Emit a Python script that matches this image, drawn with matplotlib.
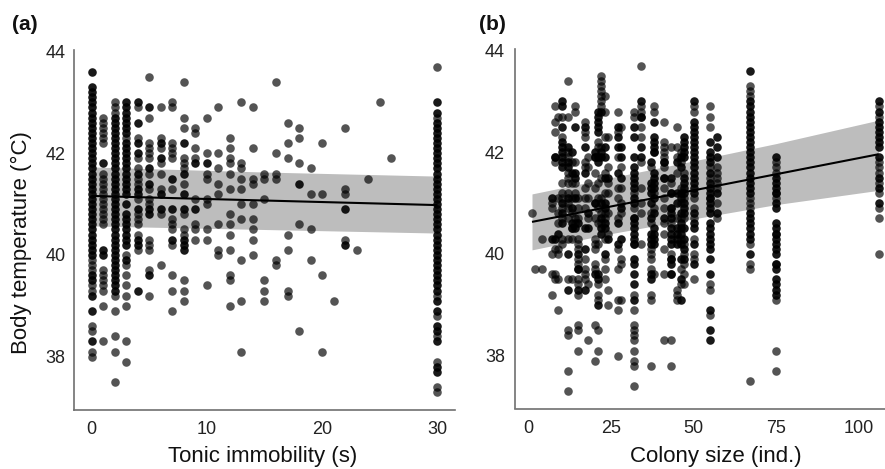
import matplotlib
matplotlib.use("Agg")
import matplotlib.pyplot as plt
import numpy as np

plt.rcParams['font.family'] = ['Liberation Sans', 'DejaVu Sans']

# ---------- Panel (a): tonic immobility (s) vs body temperature ----------
a_times = [0, 1, 2, 3, 4, 5, 6, 7, 8, 9, 10, 11, 12, 13, 14, 15, 16, 17, 18, 19, 20, 21, 22, 23, 24, 25, 26, 30]
a_grey = [
    [39.9, 39.8, 39.7, 39.4, 39.3, 38.6, 38.5, 38.1, 38.0],
    [42.7, 42.6, 42.5, 42.4, 42.3, 42.2, 41.6, 41.5, 41.4, 41.3, 41.2, 41.1, 41.0, 40.9, 40.8, 40.7, 40.6, 39.7, 39.6, 39.5, 39.4, 39.3, 39.0, 38.3],
    [43.0, 42.9, 42.8, 39.2, 38.9, 38.4, 38.1, 37.5],
    [42.3, 40.0, 39.8, 39.6, 39.4, 39.2, 39.0, 38.3, 37.9],
    [42.9, 42.3, 41.9, 41.7, 41.5, 41.4, 41.1, 40.8, 40.7, 40.6, 40.4, 40.1],
    [43.5, 42.7, 42.2, 42.1, 42.0, 41.9, 41.6, 41.3, 41.1, 41.0, 40.3, 40.2, 40.1, 39.7, 39.2],
    [42.9, 42.3, 42.1, 41.8, 41.6, 41.3, 40.8, 39.8],
    [43.0, 42.9, 42.2, 42.1, 42.0, 41.9, 41.3, 40.7, 40.6, 40.5, 40.2, 39.6, 39.3, 38.9],
    [43.4, 42.7, 42.5, 41.9, 41.8, 41.7, 41.4, 40.8, 40.5, 40.4, 39.5, 39.3, 39.1],
    [42.5, 42.4, 42.1, 41.9, 41.1, 40.6, 40.5, 40.3],
    [42.7, 42.0, 41.6, 41.5, 41.1, 41.0, 40.5, 40.3, 39.4],
    [42.9, 42.0, 41.7, 41.4, 41.2, 40.6, 40.1, 40.0],
    [42.3, 42.1, 41.9, 41.8, 41.6, 41.3, 40.8, 40.6, 40.4, 40.1, 39.6, 39.5, 39.0],
    [43.0, 41.8, 41.7, 41.5, 41.3, 41.0, 40.7, 39.9, 39.1, 38.1],
    [42.9, 42.1, 41.5, 41.4, 41.0, 40.7, 40.5, 40.3, 40.0],
    [41.6, 41.5, 41.1, 39.5, 39.3, 39.1],
    [43.4, 42.0, 41.6, 41.5, 39.9, 39.8],
    [42.6, 42.2, 41.9, 40.4, 40.1, 39.3, 39.2],
    [42.5, 42.3, 41.8, 40.6, 38.5],
    [41.7, 41.2, 40.5, 39.9],
    [42.2, 41.2, 39.6, 38.1],
    [39.1],
    [42.5, 41.3, 41.2, 40.3],
    [40.1],
    [41.5],
    [43.0],
    [41.9],
    [43.7, 42.7, 39.2, 38.8, 38.4, 37.9, 37.4, 37.3],
]
a_dark = [
    [43.6, 43.3, 43.2, 43.1, 43.0, 42.9, 42.8, 42.7, 42.6, 42.5, 42.4, 42.3, 42.2, 42.1, 42.0, 41.9, 41.8, 41.7, 41.6, 41.5, 41.4, 41.3, 41.2, 41.1, 41.0, 40.9, 40.8, 40.7, 40.6, 40.5, 40.4, 40.3, 40.2, 40.1, 40.0, 39.6, 39.5, 39.2, 38.9, 38.3],
    [41.8, 40.1, 40.0],
    [42.7, 42.6, 42.5, 42.4, 42.3, 42.2, 42.1, 42.0, 41.9, 41.8, 41.7, 41.6, 41.5, 41.4, 41.3, 41.2, 41.1, 41.0, 40.9, 40.8, 40.7, 40.6, 40.5, 40.4, 40.3, 40.2, 40.1, 40.0, 39.9, 39.8, 39.7, 39.6, 39.5, 39.4, 39.3],
    [43.0, 42.9, 42.8, 42.7, 42.6, 42.5, 42.4, 42.2, 42.1, 42.0, 41.9, 41.8, 41.7, 41.6, 41.5, 41.4, 41.3, 41.2, 41.0, 40.8, 40.7, 40.6, 40.5, 40.4, 40.3, 40.2, 39.9],
    [43.0, 42.6, 42.2, 42.0, 41.6, 41.3, 41.2, 40.9, 40.3, 40.2, 39.3],
    [42.9, 41.7, 41.4, 40.9, 40.8, 39.6],
    [42.2, 41.9, 41.2, 40.9],
    [41.5, 40.9, 40.3],
    [42.2, 41.6, 41.2, 40.9, 40.3, 40.2, 40.1],
    [41.8, 40.9],
    [41.8],
    [],
    [],
    [],
    [],
    [],
    [],
    [],
    [41.4],
    [],
    [],
    [],
    [40.9, 40.2],
    [],
    [],
    [],
    [],
    [43.0, 42.8, 42.6, 42.5, 42.4, 42.3, 42.2, 42.1, 42.0, 41.9, 41.8, 41.7, 41.6, 41.5, 41.4, 41.3, 41.2, 41.1, 41.0, 40.9, 40.8, 40.7, 40.6, 40.5, 40.4, 40.3, 40.2, 40.1, 40.0, 39.9, 39.8, 39.7, 39.6, 39.5, 39.4, 39.3, 39.1, 38.9, 38.6, 38.5, 38.3, 37.8, 37.7],
]
a_band_x = [0, 15, 30]
a_band_hi = [41.73, 41.63, 41.55]
a_band_lo = [40.57, 40.50, 40.43]
a_line_x = [0, 30]
a_line_y = [41.16, 40.98]

# ---------- Panel (b): colony size vs body temperature ----------
b_sizes = [1, 2, 4, 7, 8, 9, 10, 12, 13, 14, 15, 17, 18, 20, 21, 22, 23, 24, 27, 28, 32, 34, 37, 38, 41, 43, 45, 46, 47, 50, 55, 57, 67, 75, 106]
b_grey = [
    [40.8],
    [39.7],
    [40.3, 39.7],
    [41.0, 40.9, 40.0, 39.6, 39.2],
    [42.9, 42.6, 42.4, 41.9, 41.8, 40.1, 39.6, 39.5],
    [42.7, 41.1, 40.8, 40.6, 40.1, 40.0, 39.5, 38.9],
    [42.7, 42.3, 41.4, 41.2, 41.1, 40.9, 40.7, 40.3, 40.2],
    [43.4, 42.7, 42.0, 41.9, 41.6, 41.5, 41.4, 41.2, 41.0, 40.9, 40.7, 40.3, 39.5, 38.5, 38.4, 37.7, 37.3],
    [41.8, 41.4, 41.1, 40.8, 40.5, 40.3, 39.5],
    [42.9, 42.8, 41.8, 41.4, 41.2, 40.7, 40.6],
    [41.1, 40.9, 40.7, 40.3, 40.2, 40.1, 39.9, 39.8, 39.7, 39.5, 39.4, 39.2, 38.6, 38.5, 38.1],
    [42.6, 42.4, 42.3, 41.8, 41.7, 41.3, 41.1, 40.9, 39.9, 39.7, 39.6, 39.5],
    [41.9, 41.7, 41.4, 41.1, 40.7, 39.4, 38.3],
    [41.9, 41.6, 41.3, 41.0, 40.7, 40.3, 40.2, 40.1, 39.8, 39.7, 38.6, 37.9],
    [42.2, 42.1, 41.4, 41.1, 40.9, 40.6, 40.2, 39.4, 39.2, 39.1, 38.5, 38.1],
    [43.5, 43.4, 43.3, 43.2, 43.1, 43.0, 42.9, 42.1, 41.5, 41.1, 40.8, 40.6],
    [43.1, 42.8, 42.3, 41.6, 41.2, 40.8, 40.7, 40.3, 39.9, 39.7, 39.5],
    [42.3, 41.7, 41.4, 41.2, 40.8, 40.4, 39.3, 39.0],
    [42.8, 42.4, 41.9, 41.3, 41.1, 40.7, 40.1, 39.7, 39.1, 38.9, 38.0],
    [42.5, 41.7, 41.3, 41.0, 40.8, 39.9, 39.8, 39.1],
    [42.8, 42.7, 41.2, 40.9, 40.7, 40.2, 39.2, 38.9, 38.6, 38.5, 38.4, 38.3, 38.1, 37.9, 37.8, 37.4],
    [43.7, 42.9, 42.8, 42.7, 42.5, 42.3, 41.8, 41.3, 41.0, 40.8, 40.2],
    [41.7, 40.8, 40.6, 40.1, 40.0, 39.9, 39.7, 39.2, 39.1, 37.8],
    [42.9, 42.8, 42.0, 41.2, 40.9, 39.6],
    [42.6, 42.2, 42.1, 42.0, 41.9, 41.8, 41.7, 41.5, 41.3, 41.1, 40.9, 40.6, 40.4, 40.1, 39.6, 38.3],
    [42.1, 41.4, 41.2, 40.9, 40.6, 40.0, 39.9, 39.6, 38.3, 37.8],
    [42.5, 42.1, 41.9, 41.6, 40.7, 39.3, 39.2, 39.1],
    [42.0, 41.8, 41.3, 41.0, 40.7, 40.3, 39.7, 39.4],
    [41.6, 41.1, 40.7, 40.2, 40.0, 39.8, 39.6, 39.4],
    [42.9, 42.8, 41.1, 40.9, 40.7, 40.3, 40.0, 39.9, 39.5],
    [42.9, 42.7, 42.5, 41.7, 41.5, 41.1, 39.4, 39.3, 38.8],
    [41.7, 41.6, 41.5, 41.4, 41.3, 41.0, 40.7],
    [43.3, 43.2, 43.1, 41.1, 41.0, 40.9, 40.2, 39.8, 39.7, 37.5],
    [41.8, 41.7, 41.6, 41.2, 41.1, 40.4, 39.8, 39.1, 38.1, 37.7],
    [42.9, 42.7, 41.8, 41.7, 41.6, 41.4, 41.2, 40.9, 40.7, 40.0],
]
b_dark = [
    [],
    [],
    [],
    [41.1, 40.3],
    [41.9, 40.3],
    [40.4],
    [43.0, 42.9, 42.5, 42.2, 42.1, 42.0, 41.9, 41.8, 41.7, 41.0, 40.8, 40.6],
    [42.1, 41.8, 41.7, 41.1, 40.0, 39.3],
    [42.0, 41.6, 40.9, 40.6, 40.5],
    [42.5, 41.6, 41.5, 41.1, 40.5],
    [40.6, 40.0, 39.7, 39.3],
    [42.5, 42.1, 41.6, 40.5, 40.1, 39.3],
    [40.8, 40.5],
    [42.0, 41.9, 41.0, 39.6],
    [42.8, 42.7, 42.6, 42.5, 42.4, 41.9, 41.8, 39.6, 39.5, 39.0],
    [42.8, 42.0, 41.9, 41.0, 40.7, 40.5, 40.4],
    [42.1, 41.9, 41.5, 41.0, 40.9, 40.6, 40.5, 40.0],
    [41.5, 40.3],
    [42.5, 42.3, 42.1, 41.6, 40.6, 40.2],
    [42.1, 41.9, 41.5, 40.9, 40.3],
    [42.5, 42.3, 41.9, 41.7, 41.6, 41.5, 41.4, 41.3, 41.1, 41.0, 40.7, 40.6, 40.5, 40.4, 40.3, 40.2, 39.9, 39.8, 39.6, 39.4, 39.1],
    [43.0, 42.7, 42.1, 41.9],
    [41.8, 41.4, 41.3, 41.2, 41.0, 40.7, 40.4, 40.3, 40.2, 39.6, 39.5],
    [42.6, 42.3, 42.2, 42.1, 42.0, 41.6, 41.5, 41.4, 41.3, 41.1, 40.8, 40.5, 40.4, 40.3, 40.2],
    [41.8, 41.5, 40.7],
    [41.5, 41.2, 40.9, 40.8, 40.7, 40.5, 40.4, 40.3, 40.2, 39.9, 39.8, 39.6],
    [41.8, 41.2, 41.0, 40.5, 40.4, 40.3, 40.2],
    [41.9, 41.7, 41.2, 41.1, 40.8, 40.6, 40.5, 40.4, 40.2, 39.9, 39.5, 39.1],
    [42.3, 42.2, 42.1, 42.0, 41.9, 41.5, 41.4, 41.3, 41.2, 41.0, 40.9, 40.8, 40.5, 40.3, 40.1, 39.9],
    [43.0, 42.6, 42.5, 42.4, 42.3, 42.2, 42.1, 42.0, 41.9, 41.8, 41.7, 41.6, 41.5, 41.4, 41.3, 41.2, 40.8, 40.6, 40.5, 40.2, 39.8],
    [42.2, 42.0, 41.9, 41.8, 41.6, 41.4, 41.3, 41.2, 41.1, 41.0, 40.9, 40.8, 40.6, 40.5, 40.4, 40.3, 40.2, 40.1, 39.9, 39.6, 38.9, 38.5, 38.3],
    [42.3, 42.1, 41.9, 41.2, 40.8],
    [43.6, 43.0, 42.9, 42.8, 42.7, 42.6, 42.5, 42.4, 42.3, 42.2, 42.1, 42.0, 41.9, 41.8, 41.7, 41.6, 41.5, 41.4, 41.3, 41.2, 40.8, 40.7, 40.6, 40.5, 40.4, 40.3, 40.0],
    [41.9, 41.5, 41.4, 41.3, 41.2, 41.0, 40.9, 40.6, 40.5, 40.4, 40.3, 40.2, 40.1, 40.0, 39.8, 39.7, 39.5, 39.4, 39.3, 39.2],
    [43.0, 42.8, 42.6, 42.5, 42.4, 42.3, 42.2, 42.1, 41.9, 41.5, 41.3, 41.0],
]
b_band_x = [1, 25, 50, 75, 106]
b_band_hi = [41.18, 41.50, 41.83, 42.17, 42.63]
b_band_lo = [40.08, 40.40, 40.69, 40.97, 41.25]
b_line_x = [1, 106]
b_line_y = [40.63, 41.96]

y_ticks = [38, 40, 42, 44]
a_x_ticks = [0, 10, 20, 30]
b_x_ticks = [0, 25, 50, 75, 100]

W, H = 885, 469
fig = plt.figure(figsize=(W / 100, H / 100), dpi=100)


def axes_px(left, right, top, bottom):
    return fig.add_axes([left / W, 1 - bottom / H, (right - left) / W, (bottom - top) / H])


def draw(ax, xs, grey, dark, bx, hi, lo, lx, ly):
    ax.fill_between(bx, lo, hi, color='#bdbdbd', lw=0, zorder=1)
    for x, g, d in zip(xs, grey, dark):
        ax.scatter([x] * len(g), g, s=38, c='black', alpha=0.67, lw=0, zorder=2)
        ax.scatter([x] * len(d), d, s=38, c='black', alpha=0.9, lw=0, zorder=2)
    ax.plot(lx, ly, color='black', lw=1.5, zorder=3, solid_capstyle='butt')
    for s in ['top', 'right']:
        ax.spines[s].set_visible(False)
    for s in ['left', 'bottom']:
        ax.spines[s].set_color('#707070')
        ax.spines[s].set_linewidth(1.2)
    ax.set_ylim(36.96, 44.03)
    ax.set_yticks(y_ticks)
    ax.tick_params(length=0, labelsize=13, colors='#222222', pad=8)


ax_a = axes_px(74, 455, 50, 409.5)
draw(ax_a, a_times, a_grey, a_dark, a_band_x, a_band_hi, a_band_lo, a_line_x, a_line_y)
ax_a.set_xlim((74 - 91.5) / 11.53, (455 - 91.5) / 11.53)
ax_a.set_xticks(a_x_ticks)
ax_a.tick_params(axis='y', pad=6)

ax_b = axes_px(514.7, 885, 49, 408.5)
draw(ax_b, b_sizes, b_grey, b_dark, b_band_x, b_band_hi, b_band_lo, b_line_x, b_line_y)
ax_b.set_xlim((514.7 - 528.7) / 3.3, (885 - 528.7) / 3.3)
ax_b.set_xticks(b_x_ticks)
ax_b.tick_params(axis='y', pad=7)

fig.text(263 / W, 1 - 456 / H, 'Tonic immobility (s)', ha='center', va='center', fontsize=16, color='#111111')
fig.text(716 / W, 1 - 456 / H, 'Colony size (ind.)', ha='center', va='center', fontsize=16, color='#111111')
fig.text(21 / W, 1 - 243 / H, 'Body temperature (°C)', rotation=90, ha='center', va='center', fontsize=16, color='#111111')
fig.text(12 / W, 1 - 24 / H, '(a)', ha='left', va='center', fontsize=15, fontweight='bold', color='#111111')
fig.text(479 / W, 1 - 24 / H, '(b)', ha='left', va='center', fontsize=15, fontweight='bold', color='#111111')

fig.savefig('out.png', dpi=100, facecolor='white')
